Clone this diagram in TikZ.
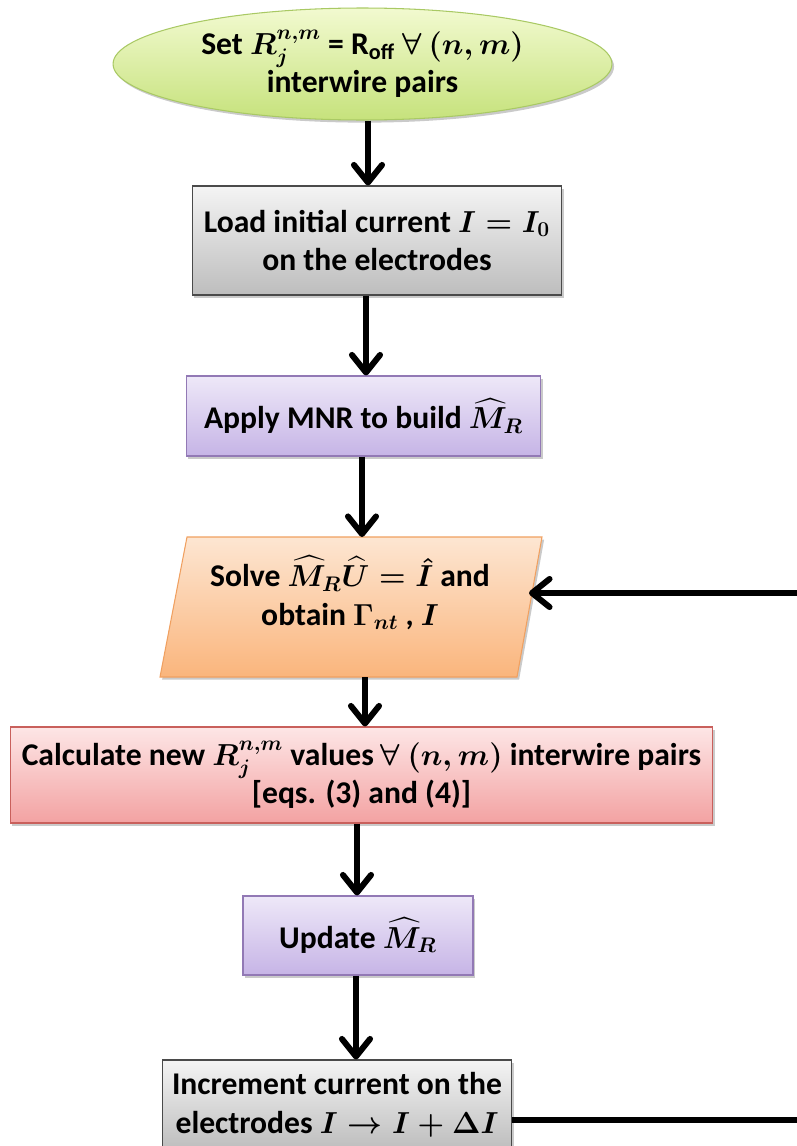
\documentclass[tikz,border=0pt]{standalone}
\usepackage{amsmath}
\usepackage{fontspec}
\setmainfont{Carlito}
\usetikzlibrary{arrows.meta,shapes.geometric,shadows}
\definecolor{grnT}{HTML}{F2FAD0}
\definecolor{grnB}{HTML}{C6E27C}
\definecolor{grnD}{HTML}{A9C964}
\definecolor{gryT}{HTML}{F4F4F4}
\definecolor{gryB}{HTML}{BDBDBD}
\definecolor{gryD}{HTML}{4A4A4A}
\definecolor{purT}{HTML}{EEE8F8}
\definecolor{purB}{HTML}{C6B4E6}
\definecolor{purD}{HTML}{9279B5}
\definecolor{orgT}{HTML}{FDE6D2}
\definecolor{orgB}{HTML}{FAB57C}
\definecolor{orgD}{HTML}{F0A060}
\definecolor{redT}{HTML}{FDE6E6}
\definecolor{redB}{HTML}{F3A2A2}
\definecolor{redD}{HTML}{C9605C}
\begin{document}
\begin{tikzpicture}[x=0.02cm,y=-0.02cm,
  every node/.style={font=\fontsize{18}{22}\selectfont\bfseries\boldmath, align=center, inner sep=0pt},
  shad/.style={drop shadow={shadow xshift=1.2pt, shadow yshift=-1.5pt, opacity=0.35, fill=black!60}},
  box/.style={draw, rectangle, line width=0.6pt, shad},
  graybox/.style={box, draw=gryD, top color=gryT, bottom color=gryB},
  purbox/.style={box, draw=purD, top color=purT, bottom color=purB},
  redbox/.style={box, draw=redD, top color=redT, bottom color=redB},
  orgbox/.style={draw=orgD, line width=0.6pt, top color=orgT, bottom color=orgB, shad},
  startnode/.style={ellipse, draw=grnD, line width=0.6pt, top color=grnT, bottom color=grnB, shad},
  conn/.style={line width=3.4pt, black},
  arr/.style={conn, -{Straight Barb[length=10pt,width=16pt,round]}}
]
\useasboundingbox (0,0) rectangle (797,1146);
\clip (0,0) rectangle (797,1146);

\node[startnode, minimum width=9.98cm, minimum height=2.24cm] (start) at (362.5,64)
  {Set $R_j^{n,m}$ = R\textsubscript{off} $\forall\ (n,m)$\\interwire pairs};
\node[graybox, minimum width=7.4cm, minimum height=2.18cm] (load) at (377,240.5)
  {Load initial current $I=I_0$\\on the electrodes};
\node[purbox, minimum width=7.1cm, minimum height=1.6cm] (apply) at (363.5,416)
  {Apply MNR to build $\widehat{M}_R$};
\path[orgbox] (187,537) -- (542,537) -- (517,677) -- (160,677) -- cycle;
\node (solve) at (350,593)
  {Solve $\widehat{M}_R\widehat{U}=\hat{I}$ and\\obtain $\Gamma_{nt}$ , $I$};
\coordinate (solveTop) at (364,537);
\coordinate (solveBot) at (365,677);
\coordinate (solveR) at (529,593);
\node[redbox, minimum width=14.06cm, minimum height=1.92cm] (calc) at (361.5,775)
  {Calculate new $R_j^{n,m}$ values $\forall\ (n,m)$ interwire pairs\\{}[eqs. (3) and (4)]};
\node[purbox, minimum width=4.6cm, minimum height=1.58cm] (update) at (358,935.5)
  {Update $\widehat{M}_R$};
\node[graybox, minimum width=7.0cm, minimum height=1.8cm] (incr) at (337,1105)
  {Increment current on the\\electrodes $I\rightarrow I+\Delta I$};

\coordinate (xa) at (368,0);
\coordinate (xb) at (366,0);
\coordinate (xc) at (362,0);
\coordinate (xe) at (357,0);
\coordinate (xf) at (356,0);
\draw[arr] (start.south -| xa) -- (load.north -| xa);
\draw[arr] (load.south -| xb) -- (apply.north -| xb);
\draw[arr] (apply.south -| xc) -- (solveTop -| xc);
\draw[arr] (solveBot) -- (calc.north -| solveBot);
\draw[arr] (calc.south -| xe) -- (update.north -| xe);
\draw[arr] (update.south -| xf) -- (incr.north -| xf);

\coordinate (c1) at (815,1120);
\coordinate (c2) at (815,593);
\draw[arr] (c1 -| incr.east) -- (c1) -- (c2) -- (solveR);
\end{tikzpicture}
\end{document}
